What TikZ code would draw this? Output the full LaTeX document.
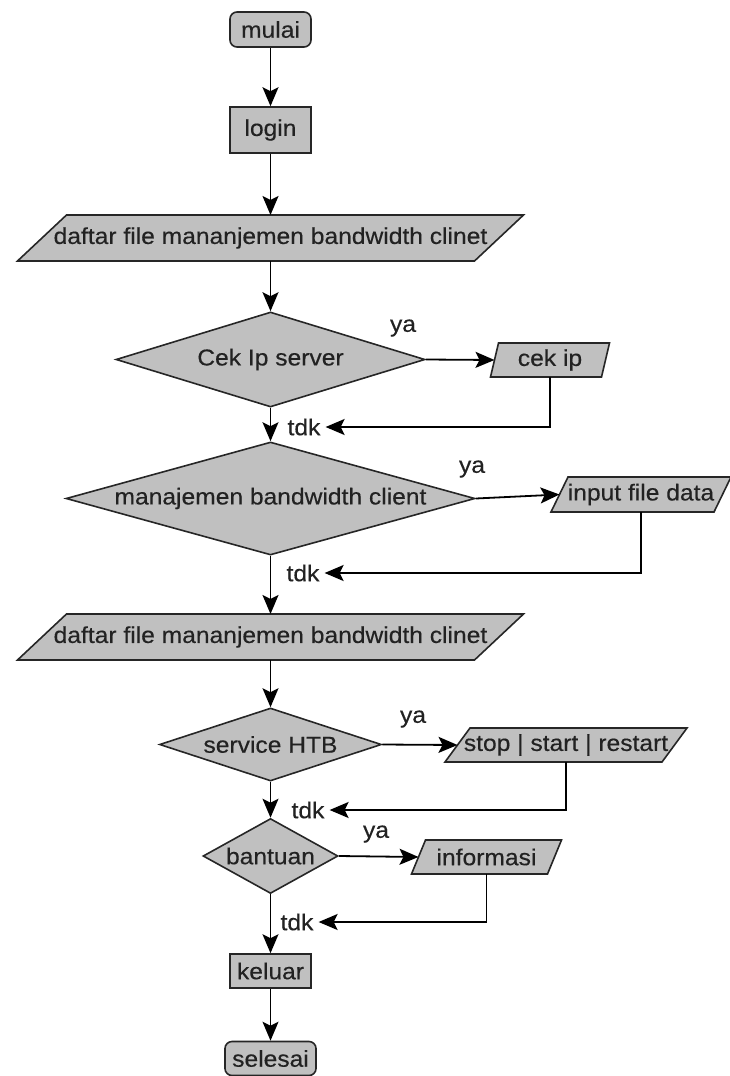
\documentclass[tikz,border=0pt]{standalone}
\usepackage{fontspec}
\setmainfont{Liberation Sans}[FakeStretch=1.07, FakeBold=0.4]
\usetikzlibrary{shapes.geometric,arrows.meta,backgrounds}
\definecolor{boxfill}{HTML}{C0C0C0}
\definecolor{edgecol}{HTML}{262626}
\definecolor{txtcol}{HTML}{222222}
\tikzset{
  base/.style={font=\fontsize{23}{26}\selectfont, text=txtcol},
  term/.style={base, draw=edgecol, fill=boxfill, line width=1.6pt, rounded corners=7pt, inner sep=0pt},
  proc/.style={base, draw=edgecol, fill=boxfill, line width=1.6pt, inner sep=0pt},
  iotext/.style={base, inner sep=0pt, outer sep=0pt},
  dec/.style={base, shape=diamond, draw=edgecol, fill=boxfill, line width=1.6pt, inner sep=0pt},
  lbl/.style={base, inner sep=0pt},
  tdklbl/.style={base, inner ysep=0pt, inner xsep=5pt},
  arr/.style={draw=black, line width=1.8pt, -{Stealth[length=19pt,width=16pt,inset=4pt]}},
}
\newcommand{\ioback}[2]{%
  \begin{scope}[on background layer]
    \filldraw[draw=edgecol, fill=boxfill, line width=1.6pt]
      ([xshift=#2]#1.north west) -- ([xshift=#2]#1.north east) --
      ([xshift=-#2]#1.south east) -- ([xshift=-#2]#1.south west) -- cycle;
  \end{scope}}
\begin{document}
\begin{tikzpicture}[x=1pt, y=-1pt]
\useasboundingbox (0,0) rectangle (729,1076);

% terminals and processes
\node[term, minimum width=81pt, minimum height=35pt] (mulai) at (270.5,29.5) {mulai};
\node[proc, minimum width=81pt, minimum height=46pt] (login) at (270.5,130) {login};

% list 1
\node[iotext, minimum width=457pt, minimum height=46pt] (list1) at (270.5,238) {daftar file mananjemen bandwidth clinet};
\ioback{list1}{24.5pt}

% decision 1
\node[dec, minimum width=309pt, minimum height=95pt, aspect=3.25] (d1) at (270.5,359.5) {Cek Ip server};
\node[iotext, minimum width=111pt, minimum height=34pt] (cekip) at (550,360) {cek ip};
\ioback{cekip}{4pt}
\node[lbl] (ya1) at (403,328) {ya};
\node[tdklbl] (t1) at (304,427) {tdk};

% decision 2
\node[dec, minimum width=409pt, minimum height=113pt, aspect=3.62] (d2) at (270.5,498.5) {manajemen bandwidth client};
\node[iotext, minimum width=163pt, minimum height=35pt] (input) at (641,494.5) {input file data};
\ioback{input}{8.5pt}
\node[lbl] (ya2) at (472,469) {ya};
\node[tdklbl] (t2) at (303,573) {tdk};

% list 2
\node[iotext, minimum width=457pt, minimum height=46pt] (list2) at (270.5,637) {daftar file mananjemen bandwidth clinet};
\ioback{list2}{24.5pt}

% decision 3
\node[dec, minimum width=222pt, minimum height=73pt, aspect=3.04] (d3) at (270.5,744.5) {service HTB};
\node[iotext, minimum width=217pt, minimum height=34pt] (stop) at (566,745) {stop | start | restart};
\ioback{stop}{12.5pt}
\node[lbl] (ya3) at (413,719) {ya};
\node[tdklbl] (t3) at (308,810) {tdk};

% decision 4
\node[dec, minimum width=135pt, minimum height=75pt, aspect=1.8] (d4) at (270.5,856) {bantuan};
\node[iotext, minimum width=136pt, minimum height=34pt] (info) at (486.5,857) {informasi};
\ioback{info}{7pt}
\node[lbl] (ya4) at (376,834) {ya};
\node[tdklbl] (t4) at (297,922) {tdk};

\node[proc, minimum width=81pt, minimum height=34pt] (keluar) at (270.5,971) {keluar};
\node[term, minimum width=91pt, minimum height=34pt] (selesai) at (270.5,1058.5) {selesai};

% connectors
\draw[arr] (mulai) -- (login);
\draw[arr] (login) -- (list1);
\draw[arr] (list1) -- (d1);
\draw[arr] (d1.east) -- (cekip.west);
\draw[arr] (cekip.south) |- (t1.east);
\draw[arr] (d1.south) -- (d2.north);
\draw[arr] (d2.east) -- (input.west);
\draw[arr] (input.south) |- (t2.east);
\draw[arr] (d2.south) -- (list2.north);
\draw[arr] (list2.south) -- (d3.north);
\draw[arr] (d3.east) -- (stop.west);
\draw[arr] (stop.south) |- (t3.east);
\draw[arr] (d3.south) -- (d4.north);
\draw[arr] (d4.east) -- (info.west);
\draw[arr] (info.south) |- (t4.east);
\draw[arr] (d4.south) -- (keluar.north);
\draw[arr] (keluar) -- (selesai);
\end{tikzpicture}
\end{document}
